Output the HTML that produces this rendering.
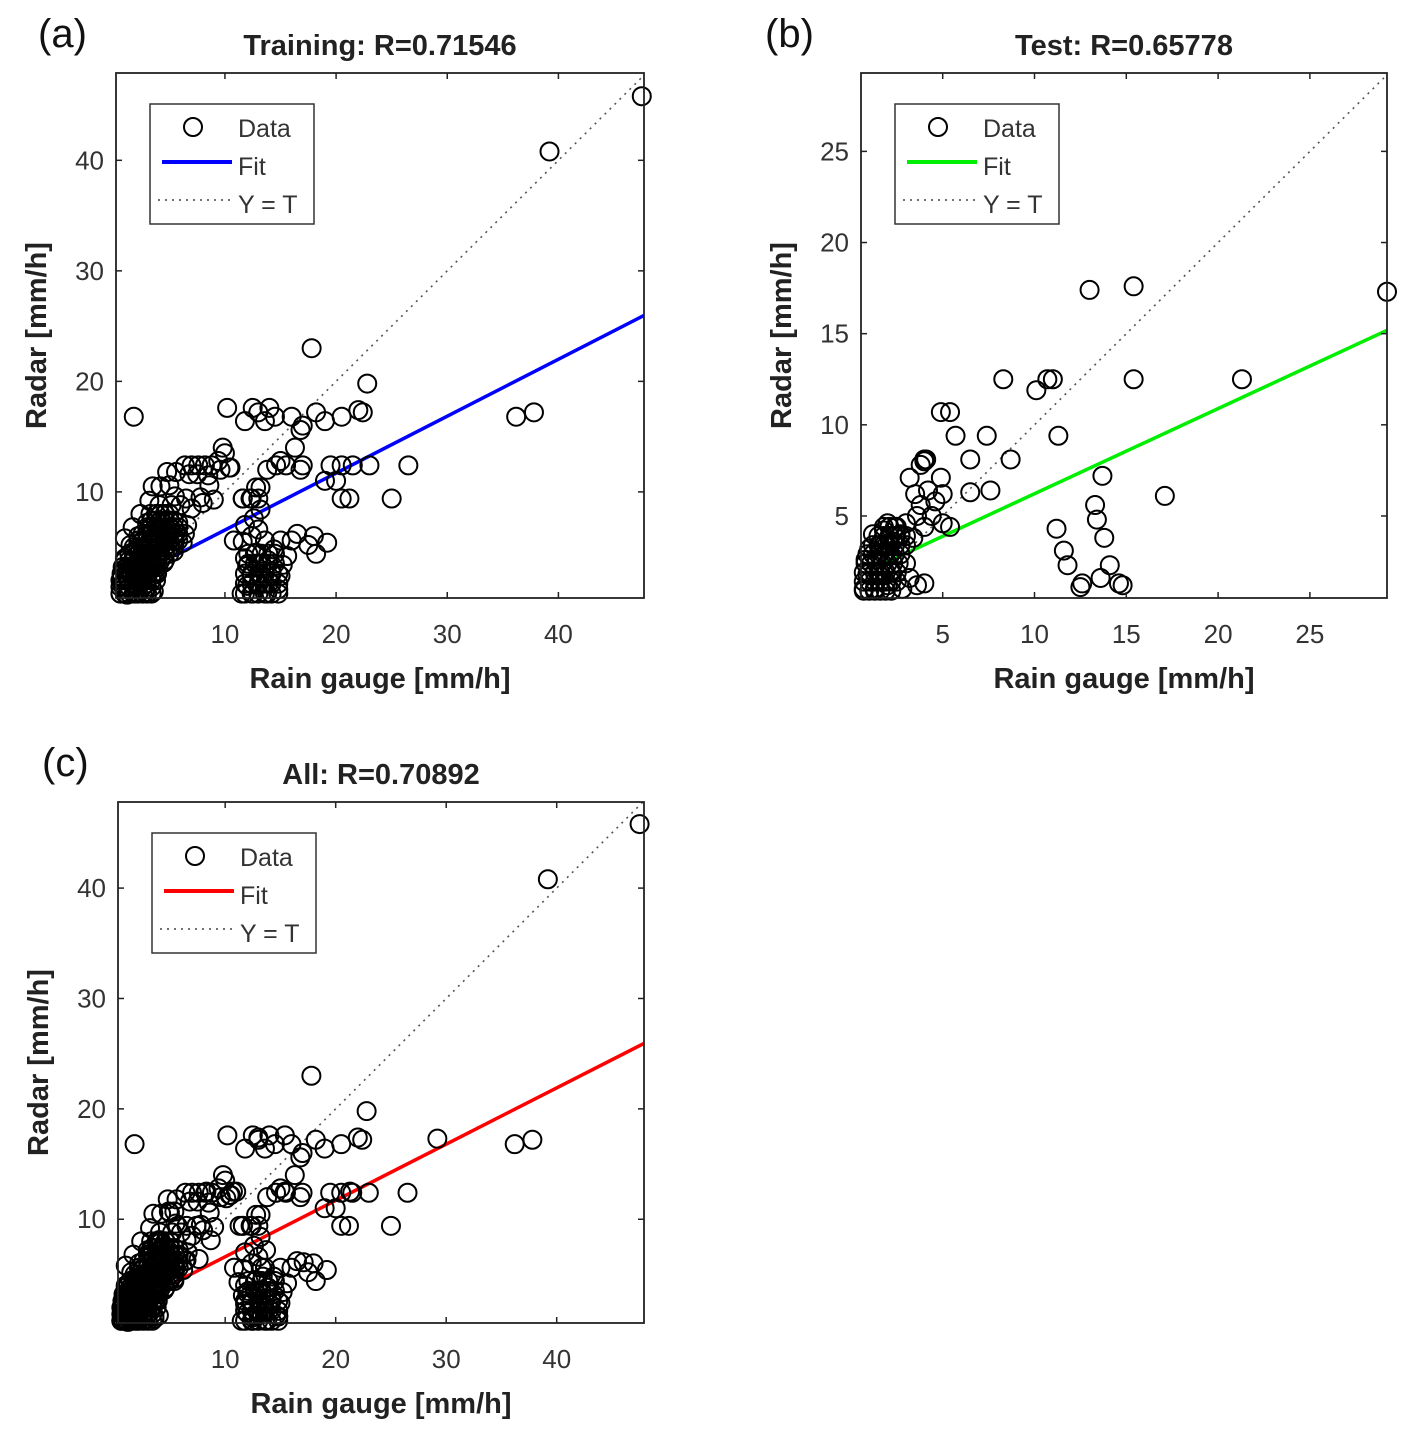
<!DOCTYPE html>
<html><head><meta charset="utf-8"><style>
body{margin:0;background:#fff;}
svg text{font-family:"Liberation Sans",Arial,sans-serif;}
</style></head><body>
<svg id="fig" width="1421" height="1449" viewBox="0 0 1421 1449" xmlns="http://www.w3.org/2000/svg"></svg>
<script>
const trainX=[47.5,39.2,1.8,17.8,22.8,36.2,37.8,26.5,25,20.5,21.2,19,14,12.5,10.2,11.8,13,13.6,14.5,16,17,18.2,19,20.5,22,22.4,16.8,16.3,15.5,14.6,13.8,15,16.8,17,19.5,20.5,21.5,23,20,11.6,12.3,12.8,13,9.8,10.5,9.4,8.5,7.8,
0.6,0.8,0.7,0.9,1.2,1.4,1.3,1.5,1.6,2.0,2.1,2.0,2.2,2.3,2.4,2.8,2.9,2.8,3.0,3.1,3.2,3.3,3.6,3.7,3.8,3.9,4.0,4.1,4.2,4.5,4.6,4.8,4.9,5.0,5.4,5.5,5.6,5.8,6.2,6.4,6.6,1.0,1.8,2.6,3.4,4.0,4.6,3.0,2.2,1.5,3.3,4.1,5.2,6.0,7.0,8.0,9.0,3.5,4.2,5.0,5.5,6.5,4.8,5.6,6.4,7.0,7.6,8.2,8.8,6.8,7.5,9.6,10.4,10.0,8.6,3.2,2.4,1.7,1.0,
11.5,12.0,12.4,12.0,11.8,11.6,12.5,13.0,13.2,13.0,12.8,12.4,13.8,14.0,14.2,13.9,14.4,13.6,14.8,15.0,15.2,15.6,15.0,16.0,16.5,17.5,18.2,18.0,19.2,13.0,11.8,12.6,13.2,10.8,12.4,13.2,11.6];
const trainY=[45.8,40.8,16.8,23,19.8,16.8,17.2,12.4,9.4,9.4,9.4,11,17.6,17.6,17.6,16.4,17.2,16.4,16.8,16.8,16,17.2,16.4,16.8,17.4,17.2,15.6,14,12.4,12.4,12,12.8,12,12.4,12.4,12.4,12.4,12.4,11,9.4,9.4,10.4,9.4,14,12.2,12.8,11.5,9.5,
0.8,1.5,2.2,3.0,0.7,1.4,2.1,2.9,3.6,0.8,1.6,2.4,3.2,4.0,4.8,0.9,1.7,2.5,3.3,4.1,4.9,5.7,1.0,2.6,3.4,4.2,5.0,5.8,6.6,3.6,4.4,5.2,6.0,6.8,4.6,5.5,6.3,7.2,5.4,6.2,7.0,4.0,4.6,5.6,6.4,7.2,8.0,7.2,6.0,5.2,8.0,8.8,8.8,8.8,8.5,9.0,9.3,10.5,10.5,10.6,9.6,9.4,11.8,11.8,12.4,12.4,12.4,12.4,12.4,11.6,11.6,12.0,12.2,13.5,10.6,9.2,8.0,6.8,5.8,
0.8,1.5,2.4,3.3,4.0,5.5,0.8,1.6,2.6,3.5,4.5,6.0,0.8,1.8,2.8,3.8,4.8,5.6,1.2,2.4,3.4,4.2,5.6,5.6,6.2,5.2,4.4,6.0,5.4,6.6,7.0,7.6,8.4,5.6,9.4,10.4,9.4];
const trainDenseX=[0.6,1.0,1.4,1.8,2.2,2.6,3.0,3.4,
0.6,1.0,1.4,1.8,2.2,2.6,3.0,3.4,
0.6,1.0,1.4,1.8,2.2,2.6,3.0,3.4,3.8,
0.7,1.1,1.5,1.9,2.3,2.7,3.1,3.5,3.9,
0.8,1.2,1.6,2.0,2.4,2.8,3.2,3.6,4.0,
1.0,1.4,1.8,2.2,2.6,3.0,3.4,3.8,4.2,4.6,
1.4,1.8,2.2,2.6,3.0,3.4,3.8,4.2,4.6,5.0,
1.8,2.2,2.6,3.0,3.4,3.8,4.2,4.6,5.0,5.4,
2.2,2.6,3.0,3.4,3.8,4.2,4.6,5.0,5.4,5.8,
2.6,3.0,3.4,3.8,4.2,4.6,5.0,5.4,5.8,
3.0,3.4,3.8,4.2,4.6,5.0,5.4,5.8,
3.4,3.8,4.2,4.6,5.0,5.4,
3.8,4.2,4.6,5.0,
11.8,12.4,13.0,13.6,14.2,14.8,
11.8,12.4,13.0,13.6,14.2,14.8,
11.8,12.4,13.0,13.6,14.2,14.8,
12.1,12.7,13.3,13.9,14.5,
12.1,12.7,13.3,13.9,14.5];
const trainDenseY=[0.8,0.8,0.8,0.8,0.8,0.8,0.8,0.8,
1.4,1.4,1.4,1.4,1.4,1.4,1.4,1.4,
2.0,2.0,2.0,2.0,2.0,2.0,2.0,2.0,2.0,
2.6,2.6,2.6,2.6,2.6,2.6,2.6,2.6,2.6,
3.2,3.2,3.2,3.2,3.2,3.2,3.2,3.2,3.2,
3.8,3.8,3.8,3.8,3.8,3.8,3.8,3.8,3.8,3.8,
4.4,4.4,4.4,4.4,4.4,4.4,4.4,4.4,4.4,4.4,
5.0,5.0,5.0,5.0,5.0,5.0,5.0,5.0,5.0,5.0,
5.6,5.6,5.6,5.6,5.6,5.6,5.6,5.6,5.6,5.6,
6.2,6.2,6.2,6.2,6.2,6.2,6.2,6.2,6.2,
6.8,6.8,6.8,6.8,6.8,6.8,6.8,6.8,
7.4,7.4,7.4,7.4,7.4,7.4,
8.0,8.0,8.0,8.0,
0.8,0.8,0.8,0.8,0.8,0.8,
1.7,1.7,1.7,1.7,1.7,1.7,
2.6,2.6,2.6,2.6,2.6,2.6,
3.5,3.5,3.5,3.5,3.5,
4.4,4.4,4.4,4.4,4.4];
const testX=[13.0,15.4,29.2,8.3,10.7,11.0,15.4,21.3,10.1,11.3,4.9,5.4,5.7,7.4,6.5,8.7,4.0,4.1,13.7,17.1,7.6,6.5,4.9,3.2,11.2,11.6,11.8,13.3,13.4,13.8,14.1,13.6,12.6,14.6,14.8,12.5,
0.7,0.9,0.8,1.0,1.3,1.5,1.4,1.6,1.8,2.0,2.2,2.1,2.3,2.5,2.7,2.0,3.0,3.4,3.6,4.0,4.4,4.6,5.0,5.4,5.0,3.8,3.5,4.2,3.0,3.2,3.6,4.0,2.8,1.2,3.8,4.0];
const testY=[17.4,17.6,17.3,12.5,12.5,12.5,12.5,12.5,11.9,9.4,10.7,10.7,9.4,9.4,8.1,8.1,8.1,8.1,7.2,6.1,6.4,6.3,7.1,7.1,4.3,3.1,2.3,5.6,4.8,3.8,2.3,1.6,1.3,1.3,1.2,1.1,
1.0,1.8,2.6,3.2,1.0,1.8,2.6,3.4,4.2,1.2,2.0,2.8,3.6,4.4,4.0,4.6,4.6,3.8,5.0,4.4,5.0,5.8,4.6,4.4,6.2,5.6,6.2,6.4,2.4,1.6,1.2,1.3,1.0,4.0,7.8,8.0];
const testDenseX=[0.7,1.0,1.3,1.6,1.9,2.2,
0.7,1.0,1.3,1.6,1.9,2.2,2.5,
0.7,1.0,1.3,1.6,1.9,2.2,2.5,
0.8,1.1,1.4,1.7,2.0,2.3,2.6,
0.9,1.2,1.5,1.8,2.1,2.4,2.7,
1.2,1.5,1.8,2.1,2.4,2.7,3.0,
1.5,1.8,2.1,2.4,2.7,3.0,
1.8,2.1,2.4];
const testDenseY=[0.9,0.9,0.9,0.9,0.9,0.9,
1.4,1.4,1.4,1.4,1.4,1.4,1.4,
1.9,1.9,1.9,1.9,1.9,1.9,1.9,
2.4,2.4,2.4,2.4,2.4,2.4,2.4,
2.9,2.9,2.9,2.9,2.9,2.9,2.9,
3.4,3.4,3.4,3.4,3.4,3.4,3.4,
3.9,3.9,3.9,3.9,3.9,3.9,
4.4,4.4,4.4];
const aX=trainX.concat(trainDenseX), aY=trainY.concat(trainDenseY);
const bX=testX.concat(testDenseX), bY=testY.concat(testDenseY);
const allX=aX.concat(bX), allY=aY.concat(bY);
const fitA=[0.515,1.4], fitB=[0.467,1.55], fitC=[0.51,1.5];
const ticksA=[10,20,30,40], ticksB=[5,10,15,20,25];

const NS='http://www.w3.org/2000/svg';
const fig=document.getElementById('fig');
function mk(tag,attrs,parent){const e=document.createElementNS(NS,tag);for(const k in attrs)e.setAttribute(k,attrs[k]);(parent||fig).appendChild(e);return e;}
function txt(s,attrs,parent){const e=mk('text',attrs,parent);e.textContent=s;return e;}

function panel(p){
  const g=mk('g',{});
  
  
  const sx=v=>p.x0+(v-p.xmin)/(p.xmax-p.xmin)*(p.x1-p.x0);
  const sy=v=>p.y1-(v-p.ymin)/(p.ymax-p.ymin)*(p.y1-p.y0);
  const cid='clip'+p.id;
  const cp=mk('clipPath',{id:cid},g);mk('rect',{x:p.x0,y:p.y0,width:p.x1-p.x0,height:p.y1-p.y0},cp);
  const plot=mk('g',{'clip-path':'url(#'+cid+')'},g);
  const lo=Math.max(p.xmin,p.ymin), hi=Math.min(p.xmax,p.ymax);
  const yt=mk('line',{x1:sx(lo),y1:sy(lo),x2:sx(hi),y2:sy(hi),stroke:'#555','stroke-width':1.6,'stroke-dasharray':'2 5'},plot);
  
  
  const pts=mk('g',{},g);
  
  
  for(let i=0;i<p.X.length;i++){
    const c=mk('circle',{cx:sx(p.X[i]),cy:sy(p.Y[i]),r:9,fill:'none',stroke:'#000','stroke-width':2},pts);
    
    
  }
  const fx0=p.fitStart, fx1=p.xmax;
  const fl=mk('line',{x1:sx(fx0),y1:sy(p.fit[0]*fx0+p.fit[1]),x2:sx(fx1),y2:sy(p.fit[0]*fx1+p.fit[1]),stroke:p.color,'stroke-width':3.5},plot);
  
  
  const box=mk('rect',{x:p.x0,y:p.y0,width:p.x1-p.x0,height:p.y1-p.y0,fill:'none',stroke:'#222','stroke-width':1.8},g);
  
  
  p.xt.forEach(t=>{
    const x=sx(t);
    mk('line',{x1:x,y1:p.y1,x2:x,y2:p.y1-6,stroke:'#222','stroke-width':1.5},g);
    mk('line',{x1:x,y1:p.y0,x2:x,y2:p.y0+6,stroke:'#222','stroke-width':1.5},g);
    const l=txt(String(t),{x:x,y:p.y1+45,'font-size':26,fill:'#333','text-anchor':'middle'},g);
    
    
  });
  p.yt.forEach(t=>{
    const y=sy(t);
    mk('line',{x1:p.x0,y1:y,x2:p.x0+6,y2:y,stroke:'#222','stroke-width':1.5},g);
    mk('line',{x1:p.x1,y1:y,x2:p.x1-6,y2:y,stroke:'#222','stroke-width':1.5},g);
    const l=txt(String(t),{x:p.x0-12,y:y+9,'font-size':26,fill:'#333','text-anchor':'end'},g);
    
    
  });
  const xl=txt('Rain gauge [mm/h]',{x:(p.x0+p.x1)/2,y:p.y1+90,'font-size':29,'font-weight':'bold',fill:'#222','text-anchor':'middle'},g);
  
  
  const yx=p.x0-70, yy=(p.y0+p.y1)/2;
  const yl=txt('Radar [mm/h]',{x:yx,y:yy,'font-size':29,'font-weight':'bold',fill:'#222','text-anchor':'middle',transform:'rotate(-90 '+yx+' '+yy+')'},g);
  
  
  const ti=txt(p.title,{x:(p.x0+p.x1)/2,y:p.y0-18,'font-size':29,'font-weight':'bold',fill:'#222','text-anchor':'middle'},g);
  
  
  const lt=txt(p.letter,{x:p.lx,y:p.y0-26,'font-size':40,fill:'#111','font-family':'Liberation Serif, serif'},g);
  
  
  const lg=mk('g',{},g);
  
  
  const bx=p.x0+34, by=p.y0+31;
  mk('rect',{x:bx,y:by,width:164,height:120,fill:'#fff',stroke:'#333','stroke-width':1.5},lg);
  mk('circle',{cx:bx+43,cy:by+23,r:9,fill:'none',stroke:'#000','stroke-width':2},lg);
  const e1=txt('Data',{x:bx+88,y:by+33,'font-size':25,fill:'#333'},lg);
  
  
  mk('line',{x1:bx+12,y1:by+58,x2:bx+82,y2:by+58,stroke:p.color,'stroke-width':4},lg);
  const e2=txt('Fit',{x:bx+88,y:by+71,'font-size':25,fill:'#333'},lg);
  
  
  mk('line',{x1:bx+8,y1:by+96,x2:bx+82,y2:by+96,stroke:'#444','stroke-width':1.6,'stroke-dasharray':'2 5'},lg);
  const e3=txt('Y = T',{x:bx+88,y:by+109,'font-size':25,fill:'#333'},lg);
  
  
}
panel({id:'a',x0:116,x1:644,y0:73,y1:598,xmin:0.2,xmax:47.7,ymin:0.4,ymax:47.9,X:aX,Y:aY,fit:fitA,fitStart:5.5,color:'#0000ff',xt:ticksA,yt:ticksA,title:'Training: R=0.71546',letter:'(a)',lx:38});
panel({id:'b',x0:861,x1:1387,y0:73,y1:598,xmin:0.55,xmax:29.2,ymin:0.5,ymax:29.3,X:bX,Y:bY,fit:fitB,fitStart:1.5,color:'#00ee00',xt:ticksB,yt:ticksB,title:'Test: R=0.65778',letter:'(b)',lx:765});
panel({id:'c',x0:118,x1:644,y0:802,y1:1323,xmin:0.3,xmax:47.9,ymin:0.6,ymax:47.8,X:allX,Y:allY,fit:fitC,fitStart:5.5,color:'#ff0000',xt:ticksA,yt:ticksA,title:'All: R=0.70892',letter:'(c)',lx:42});
</script>
</body></html>
